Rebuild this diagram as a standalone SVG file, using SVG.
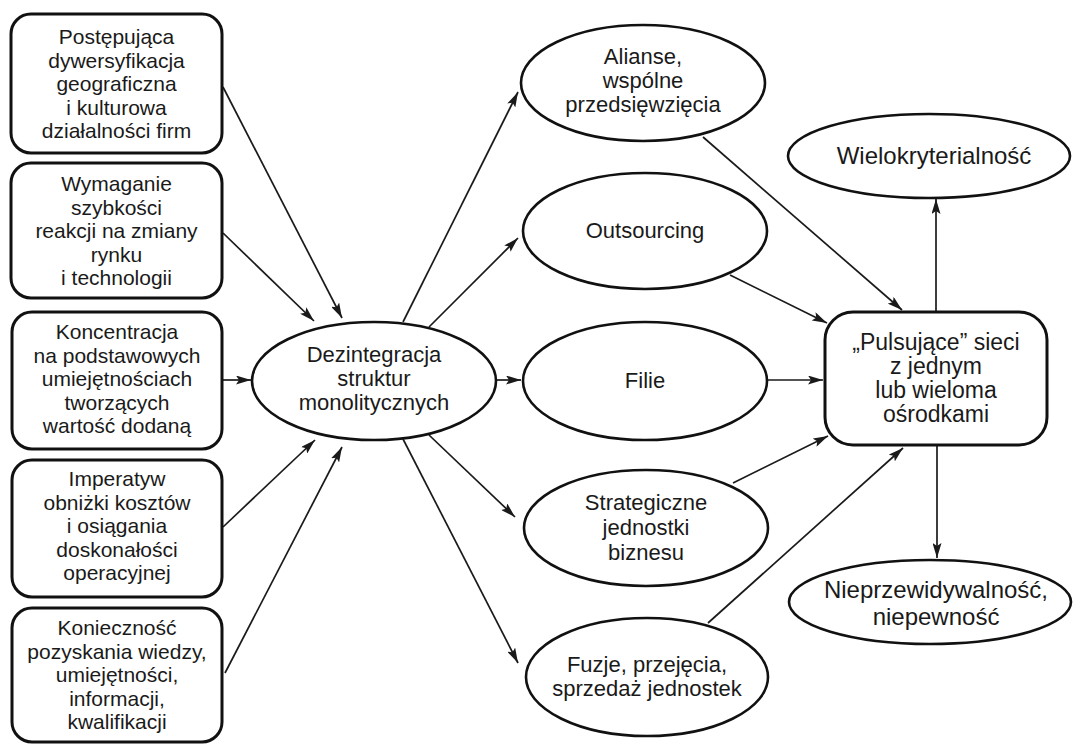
<svg xmlns="http://www.w3.org/2000/svg" width="1073" height="745" viewBox="0 0 1073 745">
<defs>
<style>
.box{fill:#fff;stroke:#111;stroke-width:3}
.ell{fill:#fff;stroke:#111;stroke-width:2.6}
.t{font-family:"Liberation Sans",Arial,sans-serif;fill:#1a1a1a;text-anchor:middle}
.s21{font-size:21px}
.s22{font-size:22px}
.s23{font-size:23px}
.s24{font-size:24px}
.c{stroke:#1a1a1a;stroke-width:1.7;fill:none;marker-end:url(#ah)}
</style>
<marker id="ah" markerUnits="userSpaceOnUse" markerWidth="16" markerHeight="9" refX="15" refY="4.5" orient="auto">
<path d="M0,0 L15,4.5 L0,9 L3,4.5 z" fill="#1a1a1a"/>
</marker>
</defs>
<rect width="1073" height="745" fill="#fff"/>
<g id="connectors">
<line class="c" x1="223" y1="87" x2="342" y2="318"/>
<line class="c" x1="223" y1="233" x2="314" y2="321"/>
<line class="c" x1="222" y1="380" x2="251" y2="380"/>
<line class="c" x1="223" y1="527" x2="315" y2="440"/>
<line class="c" x1="225" y1="673" x2="342" y2="447"/>
<line class="c" x1="403" y1="322" x2="518" y2="92"/>
<line class="c" x1="429" y1="327" x2="518" y2="238"/>
<line class="c" x1="496" y1="380" x2="521" y2="380"/>
<line class="c" x1="429" y1="435" x2="515" y2="517"/>
<line class="c" x1="403" y1="439" x2="518" y2="663"/>
<line class="c" x1="703" y1="137" x2="902" y2="310"/>
<line class="c" x1="730" y1="275" x2="827" y2="323"/>
<line class="c" x1="767" y1="380" x2="823" y2="380"/>
<line class="c" x1="733" y1="483" x2="828" y2="436"/>
<line class="c" x1="708" y1="623" x2="903" y2="448"/>
<line class="c" x1="936" y1="312" x2="936" y2="199"/>
<line class="c" x1="937" y1="445" x2="937" y2="558"/>
</g>
<g id="n1">
<rect class="box" x="11" y="14" width="211" height="139" rx="20"/>
<text class="t s21"><tspan x="116.5" y="44">Postępująca</tspan><tspan x="116.5" y="67.5">dywersyfikacja</tspan><tspan x="116.5" y="91">geograficzna</tspan><tspan x="116.5" y="114.5">i kulturowa</tspan><tspan x="116.5" y="138">działalności firm</tspan></text>
</g>
<g id="n2">
<rect class="box" x="11" y="163" width="211" height="135" rx="20"/>
<text class="t s21"><tspan x="116.5" y="191">Wymaganie</tspan><tspan x="116.5" y="214.5">szybkości</tspan><tspan x="116.5" y="238">reakcji na zmiany</tspan><tspan x="116.5" y="261.5">rynku</tspan><tspan x="116.5" y="285">i technologii</tspan></text>
</g>
<g id="n3">
<rect class="box" x="12" y="312" width="210" height="137" rx="20"/>
<text class="t s21"><tspan x="117" y="339">Koncentracja</tspan><tspan x="117" y="362.5">na podstawowych</tspan><tspan x="117" y="386">umiejętnościach</tspan><tspan x="117" y="409.5">tworzących</tspan><tspan x="117" y="433">wartość dodaną</tspan></text>
</g>
<g id="n4">
<rect class="box" x="12" y="460" width="210" height="137" rx="20"/>
<text class="t s21"><tspan x="117" y="486">Imperatyw</tspan><tspan x="117" y="509.5">obniżki kosztów</tspan><tspan x="117" y="533">i osiągania</tspan><tspan x="117" y="556.5">doskonałości</tspan><tspan x="117" y="580">operacyjnej</tspan></text>
</g>
<g id="n5">
<rect class="box" x="12" y="608" width="210" height="134" rx="20"/>
<text class="t s21"><tspan x="117" y="635">Konieczność</tspan><tspan x="117" y="658.5">pozyskania wiedzy,</tspan><tspan x="117" y="682">umiejętności,</tspan><tspan x="117" y="705.5">informacji,</tspan><tspan x="117" y="729">kwalifikacji</tspan></text>
</g>
<g id="center">
<ellipse class="ell" cx="374" cy="381" rx="122" ry="59"/>
<text class="t s22"><tspan x="374" y="362">Dezintegracja</tspan><tspan x="374" y="386">struktur</tspan><tspan x="374" y="410">monolitycznych</tspan></text>
</g>
<g id="alianse">
<ellipse class="ell" cx="643" cy="83" rx="122" ry="58"/>
<text class="t s22"><tspan x="643" y="64">Alianse,</tspan><tspan x="643" y="88">wspólne</tspan><tspan x="643" y="112">przedsięwzięcia</tspan></text>
</g>
<g id="outsourcing">
<ellipse class="ell" cx="645" cy="231" rx="122" ry="58"/>
<text class="t s22" x="645" y="238">Outsourcing</text>
</g>
<g id="filie">
<ellipse class="ell" cx="645" cy="381" rx="122" ry="59"/>
<text class="t s22" x="645" y="388">Filie</text>
</g>
<g id="sjb">
<ellipse class="ell" cx="646" cy="528" rx="122" ry="58"/>
<text class="t s22"><tspan x="646" y="510">Strategiczne</tspan><tspan x="646" y="535">jednostki</tspan><tspan x="646" y="560">biznesu</tspan></text>
</g>
<g id="fuzje">
<ellipse class="ell" cx="647" cy="677" rx="121" ry="59"/>
<text class="t s22"><tspan x="647" y="672">Fuzje, przejęcia,</tspan><tspan x="647" y="696">sprzedaż jednostek</tspan></text>
</g>
<g id="sieci">
<rect class="box" x="825" y="312" width="222" height="133" rx="28"/>
<text class="t s23"><tspan x="936" y="350">„Pulsujące” sieci</tspan><tspan x="936" y="374">z jednym</tspan><tspan x="936" y="398">lub wieloma</tspan><tspan x="936" y="422">ośrodkami</tspan></text>
</g>
<g id="wielo">
<ellipse class="ell" cx="929" cy="156" rx="141" ry="42"/>
<text class="t s24" x="934" y="164">Wielokryterialność</text>
</g>
<g id="niepr">
<ellipse class="ell" cx="930" cy="602" rx="141" ry="42"/>
<text class="t s24"><tspan x="936" y="598">Nieprzewidywalność,</tspan><tspan x="936" y="625">niepewność</tspan></text>
</g>
</svg>
